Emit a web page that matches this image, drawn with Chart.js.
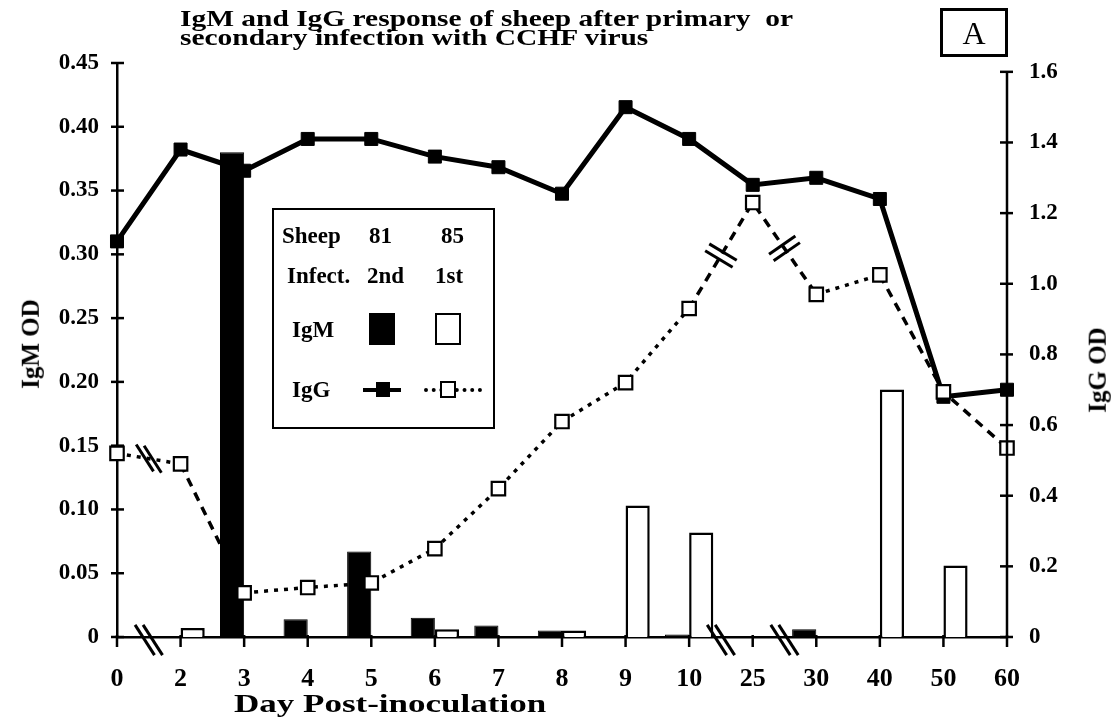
<!DOCTYPE html>
<html>
<head>
    <meta charset="utf-8" lang="en">
    <title>IgM and IgG response of sheep</title>
    <script src="https://cdn.jsdelivr.net/npm/chart.js@4.4.1/dist/chart.umd.min.js"></script>
    <style>
        body { margin: 0; background: #fff; }
        #wrap { position: relative; width: 1111px; height: 721px; font-family: "Liberation Serif", serif; font-weight: bold; color: #000; }
        #wrap div, #wrap span { position: absolute; white-space: nowrap; }
        .title { left: 180px; font-size: 23px; line-height: 19px; transform: scaleX(1.28); transform-origin: left; }
        #boxA { left: 940px; top: 8px; width: 62px; height: 43px; border: 3px solid #000; font-size: 32px; text-align: center; line-height: 44px; font-weight: normal; }
        .lg { font-size: 23px; }
        .axt { font-size: 25px; }
    </style>
</head>
<body>
<div id="wrap">
    <canvas id="chart" width="1111" height="721"></canvas>

    <div class="title" style="top:9px">IgM and IgG response of sheep after primary&nbsp; or</div>
    <div class="title" style="top:28px">secondary infection with CCHF virus</div>
    <div id="boxA">A</div>

    <div id="legendBox" style="left:272px; top:208px; width:219px; height:217px; border:2px solid #000;"></div>
    <span class="lg" style="left:282px; top:223px">Sheep</span>
    <span class="lg" style="left:369px; top:223px">81</span>
    <span class="lg" style="left:441px; top:223px">85</span>
    <span class="lg" style="left:287px; top:263px">Infect.</span>
    <span class="lg" style="left:367px; top:263px">2nd</span>
    <span class="lg" style="left:435px; top:263px">1st</span>
    <span class="lg" style="left:292px; top:317px">IgM</span>
    <span style="left:369px; top:313px; width:26px; height:32px; background:#000;"></span>
    <span style="left:435px; top:313px; width:22px; height:28px; border:2px solid #000;"></span>
    <span class="lg" style="left:292px; top:377px">IgG</span>
    <span style="left:363px; top:388px; width:38px; height:4px; background:#000;"></span>
    <span style="left:376px; top:382px; width:14px; height:15px; background:#000;"></span>
    <span style="left:424px; top:388px; width:58px; height:0; border-top:4px dotted #000;"></span>
    <span style="left:440px; top:381px; width:12px; height:13px; border:2px solid #000; background:#fff;"></span>

    <div class="axt" style="left:-14px; top:330px; transform: rotate(-90deg);">IgM OD</div>
    <div class="axt" style="left:1055px; top:356px; transform: rotate(-90deg);">IgG OD</div>
    <div class="axt" style="left:234px; top:690px; transform: scaleX(1.4); transform-origin:left;">Day Post-inoculation</div>
</div>

<script>
    // days after inoculation (axis is broken between 0-2, 10-25, 25-30)
    const days = ['0', '2', '3', '4', '5', '6', '7', '8', '9', '10', '25', '30', '40', '50', '60'];

    // IgM OD (left axis), bars
    const igmSheep81 = [null, null, 0.38, 0.014, 0.067, 0.015, 0.009, 0.005, null, 0.002, null, 0.006, null, null, null];
    const igmSheep85 = [null, 0.007, null, null, null, 0.006, null, 0.005, 0.103, 0.082, null, null, 0.194, 0.056, null];

    // IgG OD (right axis), lines
    const iggSheep81 = [1.12, 1.38, 1.32, 1.41, 1.41, 1.36, 1.33, 1.255, 1.50, 1.41, 1.28, 1.30, 1.24, 0.68, 0.70];
    const iggSheep85 = [0.52, 0.49, 0.125, 0.14, 0.153, 0.25, 0.42, 0.61, 0.72, 0.93, 1.23, 0.97, 1.025, 0.694, 0.535];

    const leftTicks = [0, 0.05, 0.10, 0.15, 0.20, 0.25, 0.30, 0.35, 0.40, 0.45];
    const rightTicks = [0, 0.2, 0.4, 0.6, 0.8, 1.0, 1.2, 1.4, 1.6];
    const breakAfter = [0, 9, 10];
    const longDashAfter = [1, 9, 10, 12, 13];

    const tickFont = { family: 'Liberation Serif', weight: 'bold', size: 23 };

    function drawBreak(ctx, cx, cy, ang, len, ox, oy) {
        const dx = Math.cos(ang) * len / 2, dy = Math.sin(ang) * len / 2;
        [-1, 1].forEach(s => {
            const mx = cx + s * ox, my = cy + s * oy;
            ctx.beginPath();
            ctx.moveTo(mx - dx, my - dy);
            ctx.lineTo(mx + dx, my + dy);
            ctx.stroke();
        });
    }

    const axisPlugin = {
        id: 'axisPlugin',
        afterDatasetsDraw(chart) {
            const ctx = chart.ctx;
            const x = chart.scales.x, y = chart.scales.y, y2 = chart.scales.y2;
            ctx.save();
            ctx.strokeStyle = '#000';
            ctx.lineWidth = 2.5;
            // right axis line only up to 1.6
            ctx.beginPath();
            ctx.moveTo(y2.left, y2.getPixelForValue(1.6));
            ctx.lineTo(y2.left, y2.getPixelForValue(0));
            ctx.stroke();
            // tick marks crossing the axes
            leftTicks.forEach(v => {
                const py = y.getPixelForValue(v);
                ctx.beginPath(); ctx.moveTo(y.right - 6, py); ctx.lineTo(y.right + 7, py); ctx.stroke();
            });
            rightTicks.forEach(v => {
                const py = y2.getPixelForValue(v);
                ctx.beginPath(); ctx.moveTo(y2.left - 7, py); ctx.lineTo(y2.left + 6, py); ctx.stroke();
            });
            days.forEach((d, i) => {
                const px = x.getPixelForValue(i);
                ctx.beginPath(); ctx.moveTo(px, x.top - 2); ctx.lineTo(px, x.top + 10); ctx.stroke();
            });
            // axis breaks
            ctx.lineWidth = 3;
            breakAfter.forEach(i => {
                const cx = (x.getPixelForValue(i) + x.getPixelForValue(i + 1)) / 2;
                drawBreak(ctx, cx, x.top + 3, 1.0, 36, 4, 0);
            });
            // breaks on the sheep 85 IgG line
            const pts = chart.getDatasetMeta(0).data;
            breakAfter.forEach(i => {
                const a = pts[i], b = pts[i + 1];
                const cx = (a.x + b.x) / 2, cy = (a.y + b.y) / 2;
                const seg = Math.atan2(b.y - a.y, b.x - a.x);
                const ang = Math.abs(seg) < 0.4 ? 1.0 : seg + Math.PI / 2;
                drawBreak(ctx, cx, cy, ang, 32, Math.cos(seg) * 4, Math.sin(seg) * 4);
            });
            ctx.restore();
        }
    };

    new Chart(document.getElementById('chart'), {
        type: 'bar',
        data: {
            labels: days,
            datasets: [
                {
                    type: 'line', label: 'IgG sheep 85', data: iggSheep85, yAxisID: 'y2', order: 0,
                    borderColor: '#000', borderWidth: 3.5, borderDash: [4, 6],
                    segment: { borderDash: c => longDashAfter.includes(c.p0DataIndex) ? [9, 7] : [4, 6] },
                    pointStyle: 'rect', pointRadius: 9.5, pointBorderWidth: 2.2,
                    pointBackgroundColor: '#fff', pointBorderColor: '#000'
                },
                {
                    type: 'line', label: 'IgG sheep 81', data: iggSheep81, yAxisID: 'y2', order: 1,
                    borderColor: '#000', borderWidth: 5,
                    pointStyle: 'rect', pointRadius: 9.2, pointBorderWidth: 1,
                    pointBackgroundColor: '#000', pointBorderColor: '#000'
                },
                {
                    label: 'IgM sheep 81', data: igmSheep81, yAxisID: 'y', order: 2,
                    backgroundColor: '#000', borderColor: '#000', borderWidth: 1,
                    categoryPercentage: 0.76, barPercentage: 1.0
                },
                {
                    label: 'IgM sheep 85', data: igmSheep85, yAxisID: 'y', order: 3,
                    backgroundColor: '#fff', borderColor: '#000', borderWidth: 2.5,
                    categoryPercentage: 0.76, barPercentage: 1.0
                }
            ]
        },
        options: {
            responsive: false,
            animation: false,
            devicePixelRatio: 1,
            layout: { padding: { top: 63, left: 0, right: 0, bottom: 0 } },
            plugins: { legend: { display: false }, tooltip: { enabled: false }, title: { display: false } },
            scales: {
                x: {
                    type: 'category', offset: false,
                    grid: { display: false },
                    border: { display: true, color: '#000', width: 2.5 },
                    ticks: { color: '#000', font: { family: 'Liberation Serif', weight: 'bold', size: 26 }, padding: 19, maxRotation: 0, autoSkip: false },
                    afterFit: s => { s.height = 84; }
                },
                y: {
                    position: 'left', min: 0, max: 0.45,
                    grid: { display: false },
                    border: { display: true, color: '#000', width: 2.5 },
                    ticks: {
                        color: '#000', font: tickFont, padding: 10,
                        callback: v => v === 0 ? '0' : v.toFixed(2)
                    },
                    afterBuildTicks: s => { s.ticks = leftTicks.map(v => ({ value: v })); },
                    afterFit: s => { s.width = 117; }
                },
                y2: {
                    position: 'right', min: 0, max: 1.625,
                    grid: { display: false },
                    border: { display: false },
                    ticks: {
                        color: '#000', font: tickFont, padding: 14,
                        callback: v => v === 0 ? '0' : v.toFixed(1)
                    },
                    afterBuildTicks: s => { s.ticks = rightTicks.map(v => ({ value: v })); },
                    afterFit: s => { s.width = 104; }
                }
            }
        },
        plugins: [axisPlugin]
    });
</script>
</body>
</html>
